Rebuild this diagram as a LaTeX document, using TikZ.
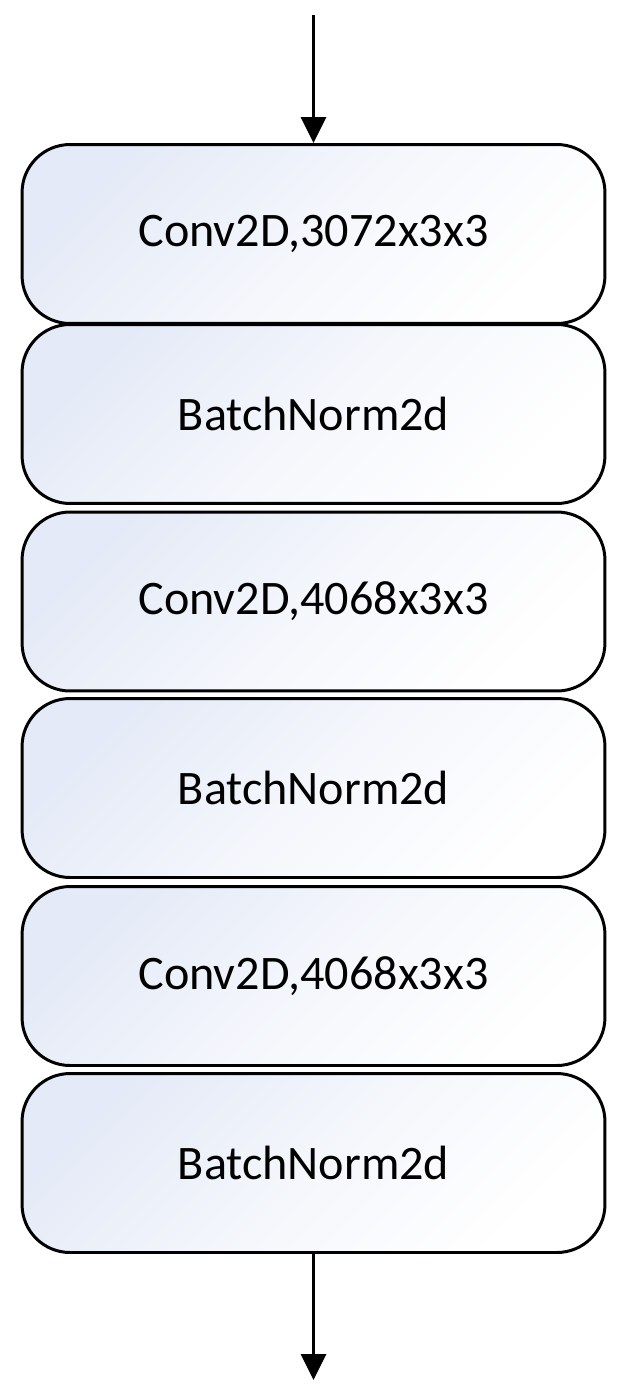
\documentclass[tikz,border=0pt]{standalone}
\usepackage{fontspec}
\setmainfont{Carlito}
\usepackage{tikz}
\usetikzlibrary{arrows.meta}
\definecolor{layerblue}{RGB}{228,234,247}
\tikzstyle{layer}=[draw=black, line width=1.7pt, rounded corners=0.96cm, minimum width=11.66cm, minimum height=3.58cm, inner sep=0pt, top color=layerblue, bottom color=white, middle color=white!60!layerblue, shading angle=45, font=\fontsize{27.4}{32}\selectfont]
\tikzstyle{flow}=[line width=1.7pt, -{Triangle[width=0.5cm,length=0.52cm]}]

\begin{document}
\begin{tikzpicture}[x=0.02cm,y=-0.02cm]
\useasboundingbox (0,0) rectangle (619,1390);
\foreach \n/\y/\lbl in {1/234/{Conv2D,3072x3x3},2/414/BatchNorm2d,3/601.5/{Conv2D,4068x3x3},4/788/BatchNorm2d,5/976/{Conv2D,4068x3x3},6/1163/BatchNorm2d} {
	\node[layer] (l\n) at (313.5,\y) {\raisebox{-2pt}{\lbl}};
}
\coordinate (in) at (313.5,15);
\coordinate (out) at (313.5,1380);
\draw[flow] (in) -- (l1.north);
\draw[flow] (l6.south) -- (out);
\end{tikzpicture}
\end{document}
